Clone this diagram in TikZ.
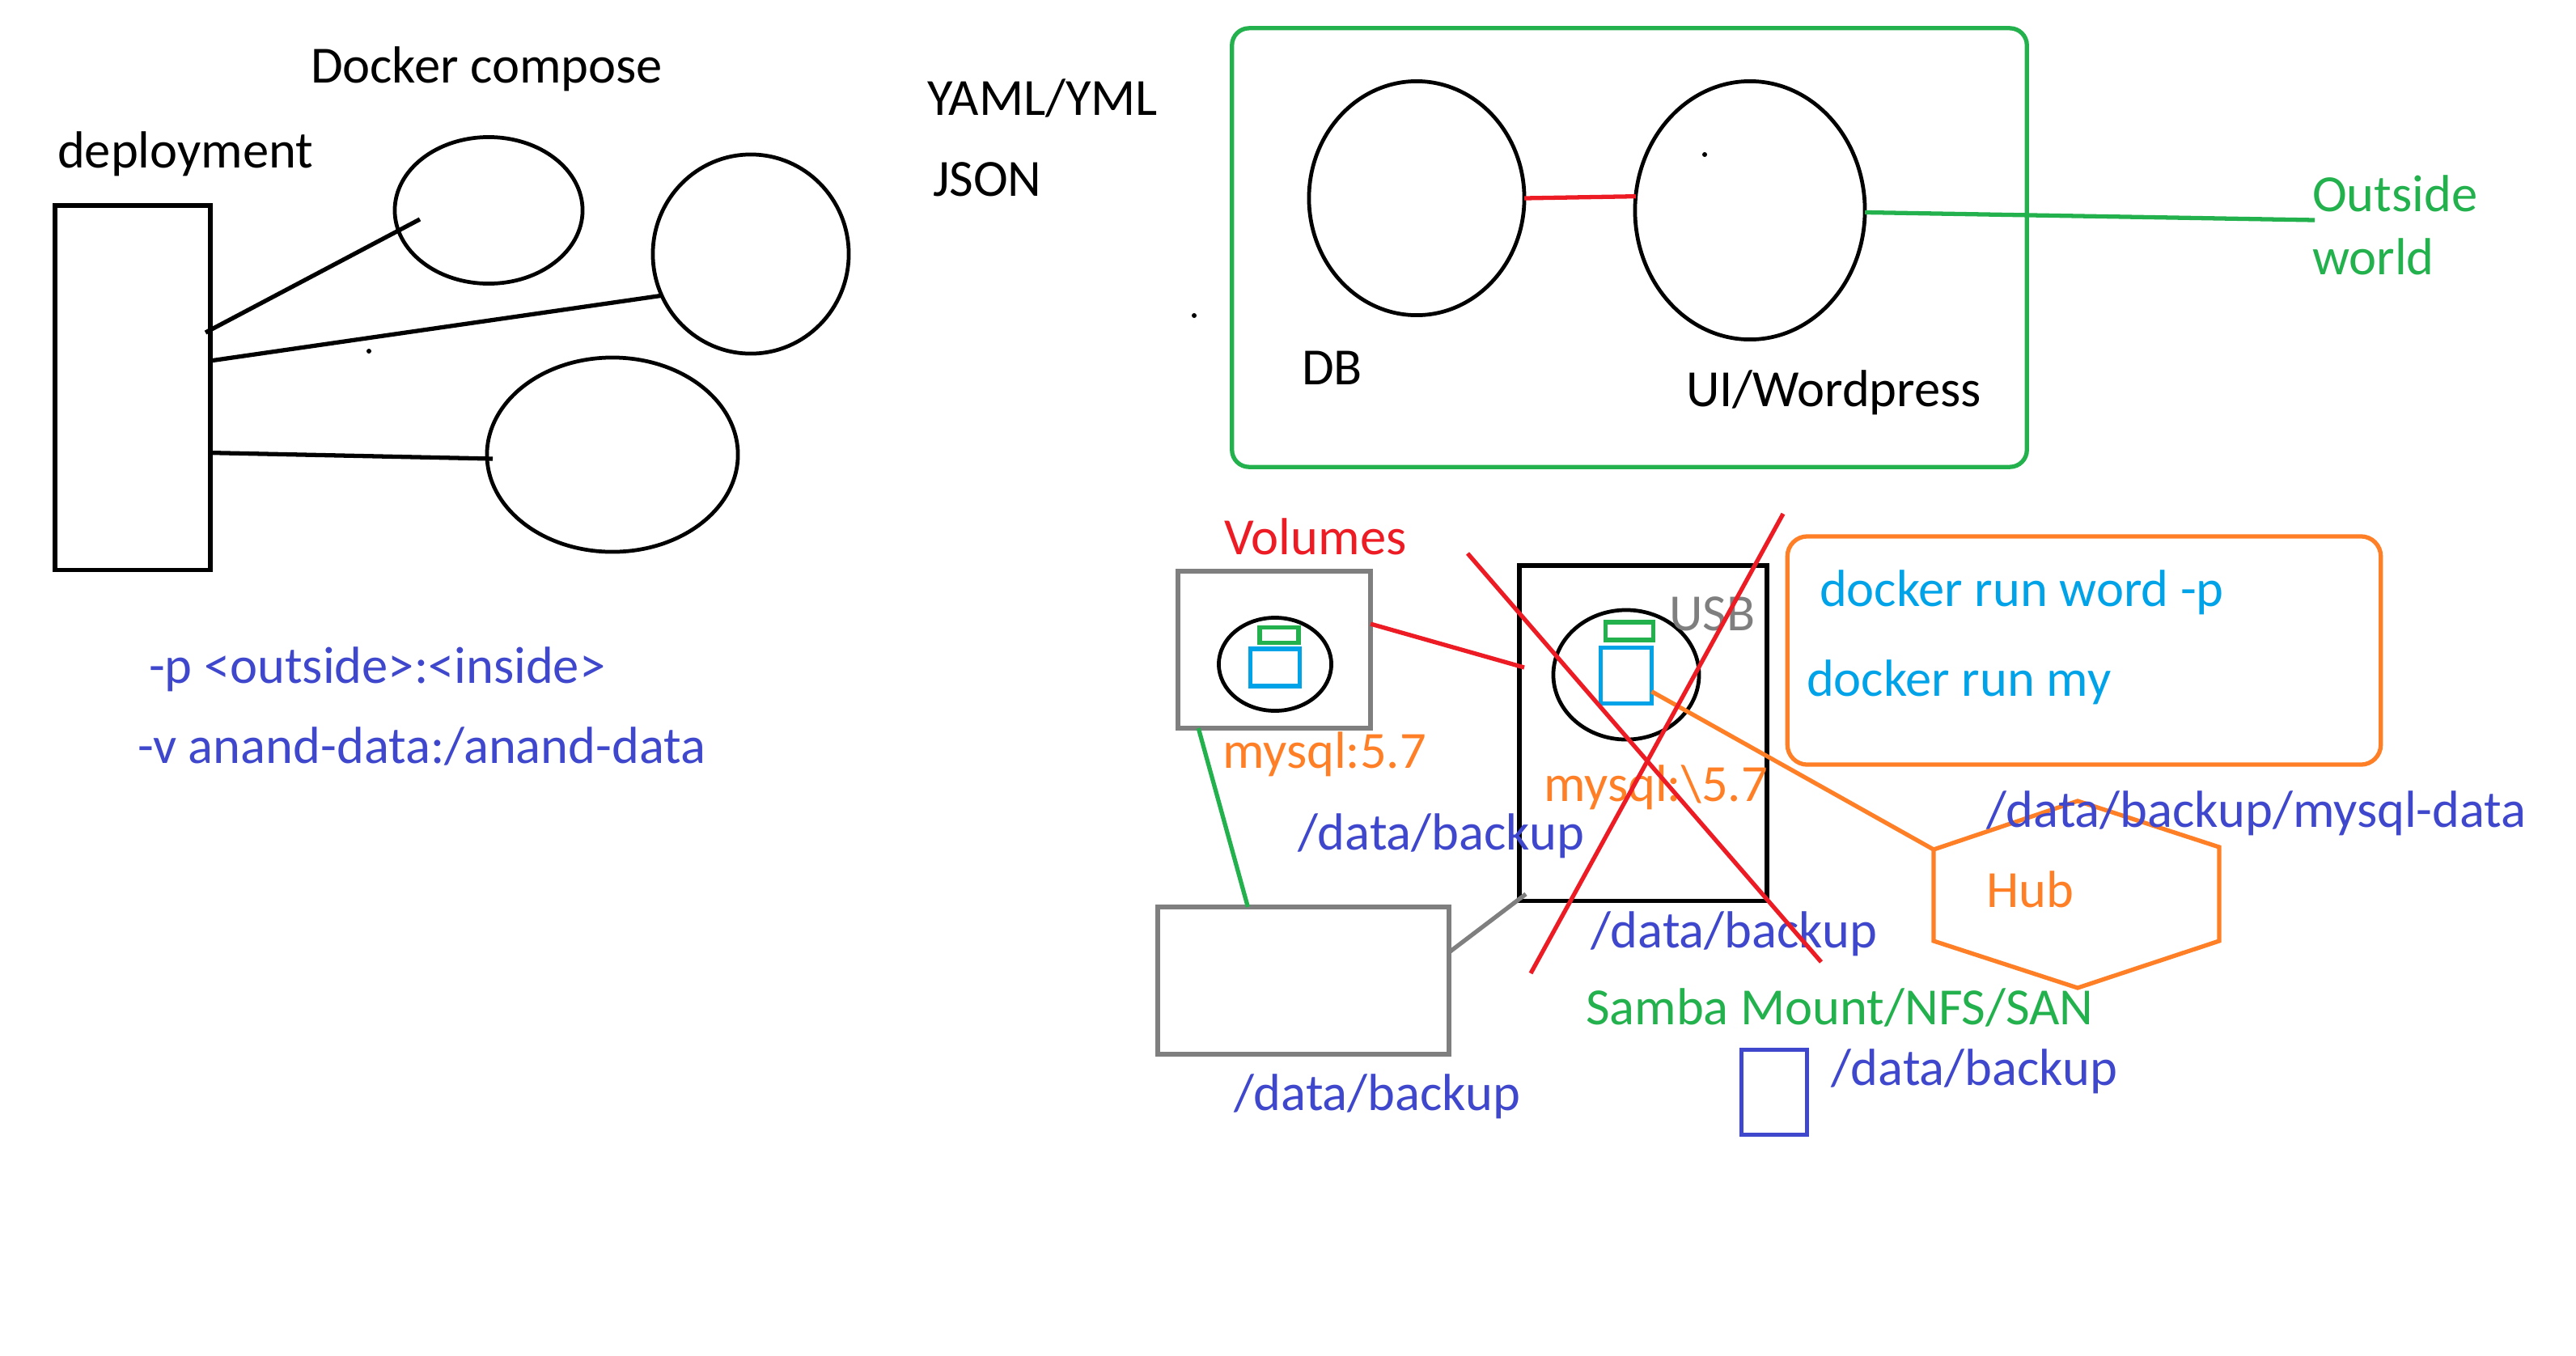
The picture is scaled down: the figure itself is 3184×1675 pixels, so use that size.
\documentclass[tikz,border=0pt]{standalone}
\usepackage{xcolor}
\usepackage{fontspec}
\usepackage{tikz}
\usetikzlibrary{shapes.geometric}
\setmainfont{Carlito}
\definecolor{paintgreen}{HTML}{22B14C}
\definecolor{paintred}{HTML}{ED1C24}
\definecolor{paintorange}{HTML}{FF7F27}
\definecolor{paintblue}{HTML}{3F48CC}
\definecolor{paintcyan}{HTML}{00A2E8}
\definecolor{paintgrey}{HTML}{7F7F7F}
\tikzset{
    box/.style={draw, rectangle, inner sep=0pt, outer sep=0pt, line width=1.5pt},
    blob/.style={draw, ellipse, inner sep=0pt, outer sep=0pt, line width=1.35pt},
    link/.style={line width=1.5pt},
    txt/.style={anchor=base west, inner sep=0pt, outer sep=0pt, font=\fontsize{18.35}{22}\selectfont}
}

\begin{document}
\begin{tikzpicture}[x=0.01cm, y=-0.01cm]
    \useasboundingbox (0,0) rectangle (3184,1675);

    % Compose group on the left
    \node[box, minimum width=1.92cm, minimum height=4.50cm] (deploy) at (164,479) {};
    \node[blob, minimum width=2.32cm, minimum height=1.81cm] (svcone) at (604,260) {};
    \node[blob, minimum width=2.42cm, minimum height=2.46cm] (svctwo) at (928,314) {};
    \node[blob, minimum width=3.10cm, minimum height=2.40cm] (svcthree) at (757,562) {};
    \coordinate (deployin) at (254,411);
    \coordinate (svcinner) at (519,271);
    \coordinate (svcedge) at (609,567);
    \draw[link] (deployin) -- (svcinner);
    \draw[link] (deploy.19.5) -- (svctwo.205);
    \draw[link] (deploy.-40) -- (svcedge);

    % Stack in the green frame
    \node[box, draw=paintgreen, rounded corners=6pt, minimum width=9.82cm, minimum height=5.42cm] (stack) at (2014,306) {};
    \node[blob, minimum width=2.66cm, minimum height=2.89cm] (dbblob) at (1751,245) {};
    \node[blob, minimum width=2.84cm, minimum height=3.19cm] (uiblob) at (2163,260) {};
    \coordinate (outworld) at (2861,272);
    \draw[link, paintred] (dbblob.east) -- (uiblob.173);
    \draw[link, paintgreen] (uiblob.-1) -- (outworld);

    % Volume example
    \node[box, draw=paintgrey, minimum width=2.38cm, minimum height=1.94cm] (volbox) at (1575,803) {};
    \node[blob, minimum width=1.39cm, minimum height=1.15cm] (volblob) at (1576,821) {};
    \node[box, draw=paintgreen, minimum width=0.48cm, minimum height=0.19cm] (voltop) at (1581,785) {};
    \node[box, draw=paintcyan, minimum width=0.61cm, minimum height=0.46cm] (volimg) at (1576,825) {};
    \node[box, minimum width=3.06cm, minimum height=4.14cm] (usbbox) at (2031,906) {};
    \node[blob, minimum width=1.80cm, minimum height=1.60cm] (usbblob) at (2010,834) {};
    \node[box, draw=paintgreen, minimum width=0.59cm, minimum height=0.22cm] (usbtop) at (2014,780) {};
    \node[box, draw=paintcyan, minimum width=0.63cm, minimum height=0.69cm] (usbimg) at (2010,835) {};
    \node[box, draw=paintgrey, minimum width=3.60cm, minimum height=1.82cm] (bigbox) at (1611,1212) {};
    \node[box, draw=paintblue, minimum width=0.81cm, minimum height=1.05cm] (smallbox) at (2193,1350) {};
    \node[box, draw=paintorange, rounded corners=7pt, minimum width=7.33cm, minimum height=2.82cm] (cmdbox) at (2576,804) {};
    \coordinate (usbin) at (1884,825);
    \coordinate (usbfoot) at (1886,1105);
    \draw[link, paintred] (volbox.15.5) -- (usbin);
    \draw[link, paintgreen] (volbox.226.5) -- (bigbox.127.6);
    \draw[link, paintgrey] (bigbox.11.6) -- (usbfoot);

    % Hub
    \coordinate (hubw) at (2390,1050);
    \coordinate (hubn) at (2568,990);
    \coordinate (hube) at (2743,1047);
    \coordinate (hubse) at (2743,1163);
    \coordinate (hubs) at (2568,1221);
    \coordinate (hubsw) at (2390,1163);
    \draw[link, paintorange] (hubw) -- (hubn) -- (hube) -- (hubse) -- (hubs) -- (hubsw) -- cycle;
    \draw[link, paintorange] (usbimg.-32) -- (hubw);

    % Labels
    \node[txt] (composelbl) at (384,102) {Docker compose};
    \node[txt] (deploylbl) at (71,207) {deployment};
    \node[txt, text=paintblue] (portlbl) at (184,844) {-p <outside>:<inside>};
    \node[txt, text=paintblue] (vollbl) at (170,943) {-v anand-data:/anand-data};
    \node[txt] (yamllbl) at (1146,142) {YAML/YML};
    \node[txt] (jsonlbl) at (1153,242) {JSON};
    \node[txt] (dblbl) at (1609,475) {DB};
    \node[txt] (uilbl) at (2084,502) {UI/Wordpress};
    \node[txt, text=paintgreen] (outlbl) at (2858,261) {Outside};
    \node[txt, text=paintgreen] (worldlbl) at (2858,339) {world};
    \node[txt, text=paintred] (volumeslbl) at (1513,685) {Volumes};
    \node[txt, text=paintorange] (mysqla) at (1511,949) {mysql:5.7};
    \node[txt, text=paintorange] (mysqlb) at (1908,990) {mysql:\textbackslash5.7};
    \node[txt, text=paintgrey] (usblbl) at (2063,779) {USB};
    \node[txt, text=paintcyan] (runword) at (2249,749) {docker run word -p};
    \node[txt, text=paintcyan] (runmy) at (2233,860) {docker run my};
    \node[txt, text=paintblue] (mysqldata) at (2455,1022) {/data/backup/mysql-data};
    \node[txt, text=paintorange] (hublbl) at (2455,1121) {Hub};
    \node[txt, text=paintgreen] (sambalbl) at (1960,1266) {Samba Mount/NFS/SAN};
    \foreach \i/\px/\py in {1/1604/1050, 2/1966/1171, 3/1525/1372, 4/2263/1341} {
        \node[txt, text=paintblue] (backup\i) at (\px,\py) {/data/backup};
    }

    % Crossed out
    \coordinate (crossa) at (1814,684);
    \coordinate (crossb) at (2251,1189);
    \coordinate (crossc) at (2204,635);
    \coordinate (crossd) at (1892,1203);
    \draw[link, paintred] (crossa) -- (crossb);
    \draw[link, paintred] (crossc) -- (crossd);

    % Stray specks
    \foreach \px/\py in {456/434, 1476/390, 2107/191} {
        \fill (\px,\py) circle (3);
    }
\end{tikzpicture}
\end{document}
